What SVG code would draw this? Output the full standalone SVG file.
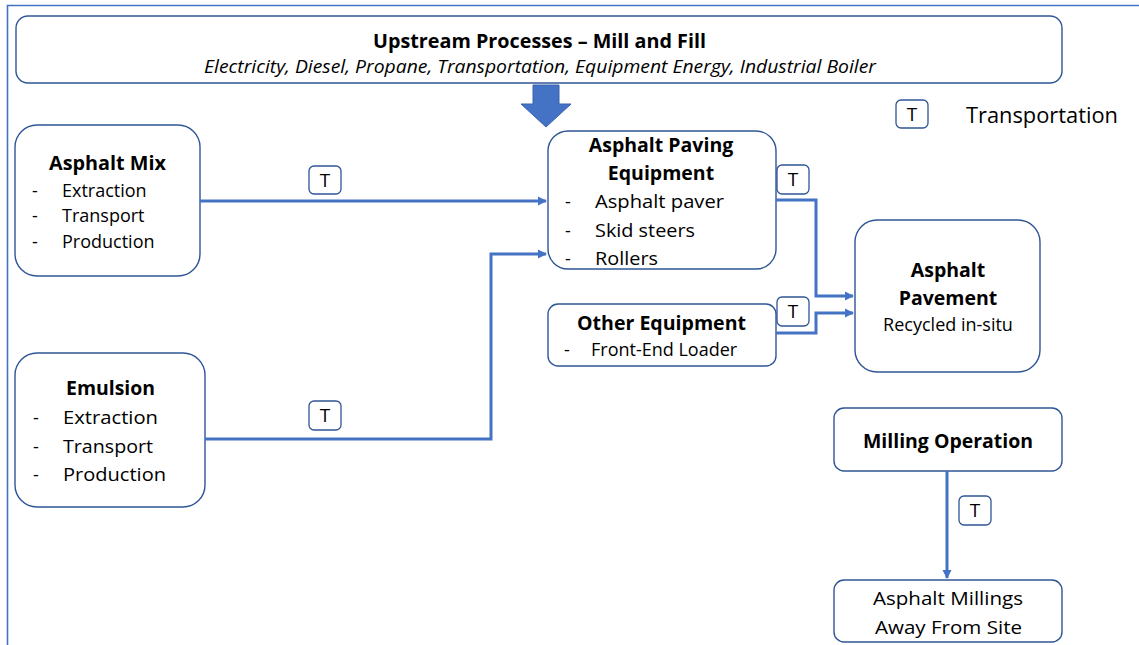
<svg xmlns="http://www.w3.org/2000/svg" width="1139" height="645" viewBox="0 0 1139 645">
  <style>
    .box { fill: #ffffff; stroke: #2f5597; stroke-width: 1.4; }
    .tag { fill: #ffffff; stroke: #2f5597; stroke-width: 1.3; }
    .wire { fill: none; stroke: #4472c4; stroke-width: 3; }
    .frame { fill: none; stroke: #4472c4; stroke-width: 1.6; }
    text { font-family: "Open Sans", "Noto Sans", sans-serif; fill: #000000; }
    .title { font-weight: bold; font-size: 19.5px; text-anchor: middle; }
    .item { font-size: 18px; }
    .mid { text-anchor: middle; }
    .t { font-size: 19px; text-anchor: middle; }
  </style>
  <defs>
    <marker id="head" markerWidth="10" markerHeight="10" refX="8" refY="5" orient="auto" markerUnits="userSpaceOnUse">
      <path d="M0,0.5 L9,5 L0,9.5 Z" fill="#4472c4"/>
    </marker>
  </defs>

  <rect width="1139" height="645" fill="#ffffff"/>
  <!-- page frame -->
  <path class="frame" d="M7.5,645 V5.5 H1139"/>

  <!-- upstream processes banner -->
  <g id="upstream">
    <rect class="box" x="16" y="16" width="1046" height="67" rx="12"/>
    <text class="title" x="539.5" y="48" font-size="20" textLength="333" lengthAdjust="spacingAndGlyphs">Upstream Processes – Mill and Fill</text>
    <text x="540" y="73" font-size="17.5" font-style="italic" text-anchor="middle" textLength="672" lengthAdjust="spacingAndGlyphs">Electricity, Diesel, Propane, Transportation, Equipment Energy, Industrial Boiler</text>
  </g>

  <!-- block arrow into paving equipment -->
  <g id="upstream-arrow">
    <path d="M533,85 H559 V104 H571 L546,127 L521,104 H533 Z" fill="#4472c4" stroke="#3a63ad" stroke-width="1"/>
  </g>

  <!-- legend -->
  <g id="legend">
    <rect class="tag" x="896" y="100" width="32" height="28" rx="5"/>
    <text class="t" x="912" y="121">T</text>
    <text x="966" y="123" font-family="Liberation Sans, Arial, sans-serif" font-size="22.5" textLength="152" lengthAdjust="spacingAndGlyphs">Transportation</text>
  </g>

  <g id="asphalt-mix">
    <rect class="box" x="15" y="125" width="185" height="151" rx="22"/>
    <text class="title" x="107.5" y="170" textLength="117" lengthAdjust="spacingAndGlyphs">Asphalt Mix</text>
    <text class="item" x="32" y="197">-</text>
    <text class="item" x="62" y="197">Extraction</text>
    <text class="item" x="32" y="222">-</text>
    <text class="item" x="62" y="222">Transport</text>
    <text class="item" x="32" y="248">-</text>
    <text class="item" x="62" y="248">Production</text>
  </g>

  <g id="emulsion">
    <rect class="box" x="15" y="353" width="190" height="154" rx="22"/>
    <text class="title" x="110.5" y="395" textLength="89" lengthAdjust="spacingAndGlyphs">Emulsion</text>
    <text class="item" x="33" y="424" font-size="20">-</text>
    <text class="item" x="63" y="424" font-size="20" textLength="95" lengthAdjust="spacingAndGlyphs">Extraction</text>
    <text class="item" x="33" y="453" font-size="20">-</text>
    <text class="item" x="63" y="453" font-size="20" textLength="90" lengthAdjust="spacingAndGlyphs">Transport</text>
    <text class="item" x="33" y="481" font-size="20">-</text>
    <text class="item" x="63" y="481" font-size="20" textLength="103" lengthAdjust="spacingAndGlyphs">Production</text>
  </g>

  <g id="paving-equipment">
    <rect class="box" x="548" y="131" width="228" height="138" rx="20"/>
    <text class="title" x="661" y="152">Asphalt Paving</text>
    <text class="title" x="661" y="180">Equipment</text>
    <text class="item" x="565" y="208" font-size="20">-</text>
    <text class="item" x="595" y="208" font-size="20" textLength="129" lengthAdjust="spacingAndGlyphs">Asphalt paver</text>
    <text class="item" x="565" y="237" font-size="20">-</text>
    <text class="item" x="595" y="237" font-size="20" textLength="100" lengthAdjust="spacingAndGlyphs">Skid steers</text>
    <text class="item" x="565" y="265" font-size="20">-</text>
    <text class="item" x="595" y="265" font-size="20" textLength="63" lengthAdjust="spacingAndGlyphs">Rollers</text>
  </g>

  <g id="other-equipment">
    <rect class="box" x="548" y="304" width="228" height="62" rx="10"/>
    <text class="title" x="661.5" y="330" textLength="169" lengthAdjust="spacingAndGlyphs">Other Equipment</text>
    <text class="item" x="564" y="356" font-size="17">-</text>
    <text class="item" x="591" y="356" font-size="17">Front-End Loader</text>
  </g>

  <g id="asphalt-pavement">
    <rect class="box" x="855" y="220" width="185" height="152" rx="22"/>
    <text class="title" x="948" y="277">Asphalt</text>
    <text class="title" x="948" y="305">Pavement</text>
    <text class="item mid" x="948" y="331" font-size="17">Recycled in-situ</text>
  </g>

  <g id="milling-operation">
    <rect class="box" x="834" y="408" width="228" height="63" rx="10"/>
    <text class="title" x="948" y="448" textLength="170" lengthAdjust="spacingAndGlyphs">Milling Operation</text>
  </g>

  <g id="asphalt-millings">
    <rect class="box" x="834" y="580" width="228" height="62" rx="10"/>
    <text class="item mid" x="948" y="605" font-size="19" textLength="150" lengthAdjust="spacingAndGlyphs">Asphalt Millings</text>
    <text class="item mid" x="948.5" y="634" font-size="19" textLength="147" lengthAdjust="spacingAndGlyphs">Away From Site</text>
  </g>

  <!-- transport connectors -->
  <g id="connectors">
    <path class="wire" d="M200,201 H546" marker-end="url(#head)"/>
    <path class="wire" d="M205,439 H491 V254 H546" marker-end="url(#head)"/>
    <path class="wire" d="M776,200 H816 V296 H853" marker-end="url(#head)"/>
    <path class="wire" d="M776,333 H816 V313 H853" marker-end="url(#head)"/>
    <path class="wire" d="M947,471 V578" marker-end="url(#head)"/>

    <rect class="tag" x="309" y="166" width="32" height="28" rx="5"/>
    <text class="t" x="325" y="187">T</text>
    <rect class="tag" x="309" y="401" width="32" height="29" rx="5"/>
    <text class="t" x="325" y="422">T</text>
    <rect class="tag" x="777" y="165" width="32" height="29" rx="5"/>
    <text class="t" x="793" y="186">T</text>
    <rect class="tag" x="777" y="297" width="32" height="29" rx="5"/>
    <text class="t" x="793" y="318">T</text>
    <rect class="tag" x="959" y="496" width="32" height="29" rx="5"/>
    <text class="t" x="975" y="517">T</text>
  </g>
</svg>
